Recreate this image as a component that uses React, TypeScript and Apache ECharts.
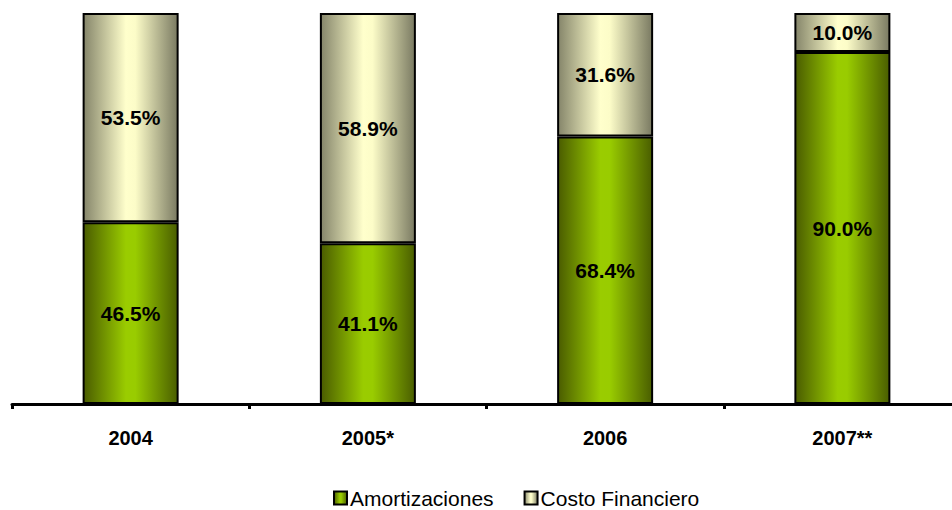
import React, { useEffect, useRef } from "react";
import * as echarts from "echarts";

const categories = ["2004", "2005*", "2006", "2007**"];
const amortizaciones = [46.5, 41.1, 68.4, 90.0];
const costoFinanciero = [53.5, 58.9, 31.6, 10.0];

const greenGrad = new echarts.graphic.LinearGradient(0, 0, 1, 0, [
  { offset: 0, color: "#4a5c00" },
  { offset: 0.45, color: "#9acc00" },
  { offset: 0.55, color: "#99cc00" },
  { offset: 1, color: "#4a5e00" },
]);
const beigeGrad = new echarts.graphic.LinearGradient(0, 0, 1, 0, [
  { offset: 0, color: "#85856a" },
  { offset: 0.45, color: "#ffffcc" },
  { offset: 0.55, color: "#fcfcc8" },
  { offset: 1, color: "#7a7a62" },
]);

const FONT = "Liberation Sans, Arial, sans-serif";

export default function App() {
  const ref = useRef<HTMLDivElement>(null);
  useEffect(() => {
    const chart = echarts.init(ref.current!, null, { renderer: "svg" });
    const label = {
      show: true,
      position: "inside",
      formatter: (p: any) => p.value.toFixed(1) + "%",
      fontFamily: FONT,
      fontWeight: "bold",
      fontSize: 21,
      color: "#000",
    };
    chart.setOption({
      animation: false,
      backgroundColor: "#fff",
      grid: { left: 12, top: 13, width: 949, height: 391, containLabel: false },
      legend: {
        top: 486,
        left: 333,
        padding: 0,
        itemWidth: 13,
        itemHeight: 13,
        itemGap: 30,
        icon: "rect",
        textStyle: {
          fontFamily: FONT,
          fontSize: 21,
          lineHeight: 24,
          color: "#000",
          padding: [0, 0, 0, -2],
        },
        data: ["Amortizaciones", "Costo Financiero"],
      },
      xAxis: {
        type: "category",
        data: categories,
        axisLine: { show: true, lineStyle: { color: "#000", width: 3 } },
        axisTick: { show: true, length: 5, lineStyle: { color: "#000", width: 3 } },
        axisLabel: {
          margin: 24,
          fontFamily: FONT,
          fontWeight: "bold",
          fontSize: 20,
          color: "#000",
        },
      },
      yAxis: {
        type: "value",
        min: 0,
        max: 100,
        show: false,
      },
      series: [
        {
          name: "Amortizaciones",
          type: "bar",
          stack: "total",
          barWidth: 96,
          data: amortizaciones,
          itemStyle: { color: greenGrad, borderColor: "#000", borderWidth: 2 },
          label,
        },
        {
          name: "Costo Financiero",
          type: "bar",
          stack: "total",
          barWidth: 96,
          data: costoFinanciero,
          itemStyle: { color: beigeGrad, borderColor: "#000", borderWidth: 2 },
          label,
        },
      ],
    });
    return () => chart.dispose();
  }, []);
  return (
    <div style={{ position: "absolute", left: 0, top: 0, width: 952, height: 510, overflow: "hidden" }}>
      <div ref={ref} style={{ width: 970, height: 510 }} />
    </div>
  );
}
